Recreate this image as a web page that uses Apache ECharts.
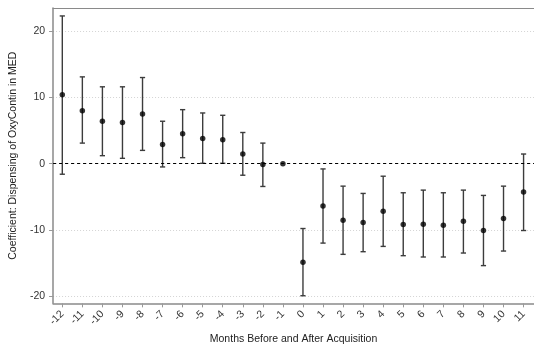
<!DOCTYPE html>
<html>
<head>
<meta charset="utf-8">
<script src="https://cdn.jsdelivr.net/npm/echarts@6/dist/echarts.min.js"></script>
<style>
  html, body { margin: 0; padding: 0; background: #fff; }
  #chart { width: 534px; height: 350px; }
</style>
</head>
<body>
<div id="chart"></div>
<script>
// Event-study coefficients by month relative to acquisition (month -1 is the reference)
var months = [-12, -11, -10, -9, -8, -7, -6, -5, -4, -3, -2, -1, 0, 1, 2, 3, 4, 5, 6, 7, 8, 9, 10, 11];
var coef   = [10.4, 8.0, 6.4, 6.2, 7.5, 2.9, 4.5, 3.8, 3.6, 1.45, -0.15, 0, -14.9, -6.4, -8.55, -8.9, -7.2, -9.2, -9.15, -9.3, -8.7, -10.1, -8.3, -4.3];
var lower  = [-1.6, 3.1, 1.2, 0.8, 2.0, -0.5, 0.9, 0.05, 0.05, -1.75, -3.45, null, -19.95, -12.0, -13.7, -13.3, -12.5, -13.9, -14.1, -14.1, -13.5, -15.4, -13.2, -10.1];
var upper  = [22.3, 13.1, 11.6, 11.6, 13.0, 6.4, 8.15, 7.65, 7.3, 4.7, 3.1, null, -9.8, -0.8, -3.4, -4.5, -1.9, -4.4, -4.0, -4.4, -4.0, -4.8, -3.4, 1.45];
var yTicks = [-20, -10, 0, 10, 20];

var pointData = months.map(function (m, i) { return [m, coef[i]]; });
var ciData = [];
months.forEach(function (m, i) {
  if (lower[i] !== null) ciData.push([m, lower[i], upper[i]]);
});

var FONT = 'Liberation Sans, Arial, sans-serif';
var X_MIN = -12.46, X_MAX = 11.52;
var chart = echarts.init(document.getElementById('chart'), null, { renderer: 'canvas' });

chart.setOption({
  animation: false,
  backgroundColor: '#fff',
  grid: { left: 52, right: -3, top: 8, bottom: 43 },
  xAxis: [
    {
      type: 'value',
      min: X_MIN, max: X_MAX,
      name: 'Months Before and After Acquisition',
      nameLocation: 'middle', nameGap: 30,
      nameTextStyle: { fontFamily: FONT, fontSize: 10.5, color: '#222' },
      axisLine: { show: true, onZero: false, lineStyle: { color: '#8a8a8a', width: 1.5 } },
      axisTick: { show: true, length: 4, customValues: months, lineStyle: { color: '#999' } },
      axisLabel: {
        customValues: months, rotate: 45, margin: 9,
        fontFamily: FONT, fontSize: 10.5, color: '#333'
      },
      splitLine: { show: false }
    },
    {
      // plain frame line along the top of the plot region
      type: 'value',
      position: 'top',
      min: X_MIN, max: X_MAX,
      axisLine: { show: true, onZero: false, lineStyle: { color: '#8a8a8a', width: 1 } },
      axisTick: { show: false },
      axisLabel: { show: false },
      splitLine: { show: false }
    }
  ],
  yAxis: {
    type: 'value',
    min: -21.1, max: 23.5,
    name: 'Coefficient: Dispensing of OxyContin in MED',
    nameLocation: 'middle', nameGap: 32,
    nameTextStyle: { fontFamily: FONT, fontSize: 10.5, color: '#222' },
    axisLine: { show: true, onZero: false, lineStyle: { color: '#8a8a8a', width: 1.5 } },
    axisTick: { show: true, length: 4, customValues: yTicks, lineStyle: { color: '#999' } },
    axisLabel: { customValues: yTicks, margin: 8, fontFamily: FONT, fontSize: 10.5, color: '#333' },
    splitLine: { show: true, lineStyle: { color: '#d4d4d4', type: [1, 2], width: 1 } }
  },
  series: [
    {
      // confidence intervals with end caps
      type: 'custom',
      data: ciData,
      encode: { x: 0, y: [1, 2] },
      renderItem: function (params, api) {
        var x = api.value(0);
        var lo = api.coord([x, api.value(1)]);
        var hi = api.coord([x, api.value(2)]);
        var cap = 2.6;
        var style = { stroke: '#3c3c3c', lineWidth: 1.4 };
        return {
          type: 'group',
          children: [
            { type: 'line', shape: { x1: lo[0], y1: lo[1], x2: hi[0], y2: hi[1] }, style: style },
            { type: 'line', shape: { x1: lo[0] - cap, y1: lo[1], x2: lo[0] + cap, y2: lo[1] }, style: style },
            { type: 'line', shape: { x1: hi[0] - cap, y1: hi[1], x2: hi[0] + cap, y2: hi[1] }, style: style }
          ]
        };
      },
      z: 3
    },
    {
      type: 'scatter',
      data: pointData,
      symbol: 'circle',
      symbolSize: 5.5,
      itemStyle: { color: '#000' },
      z: 4,
      markLine: {
        silent: true,
        symbol: 'none',
        label: { show: false },
        lineStyle: { color: '#000', type: [3, 3], width: 1 },
        data: [{ yAxis: 0 }]
      }
    }
  ]
});
</script>
</body>
</html>
